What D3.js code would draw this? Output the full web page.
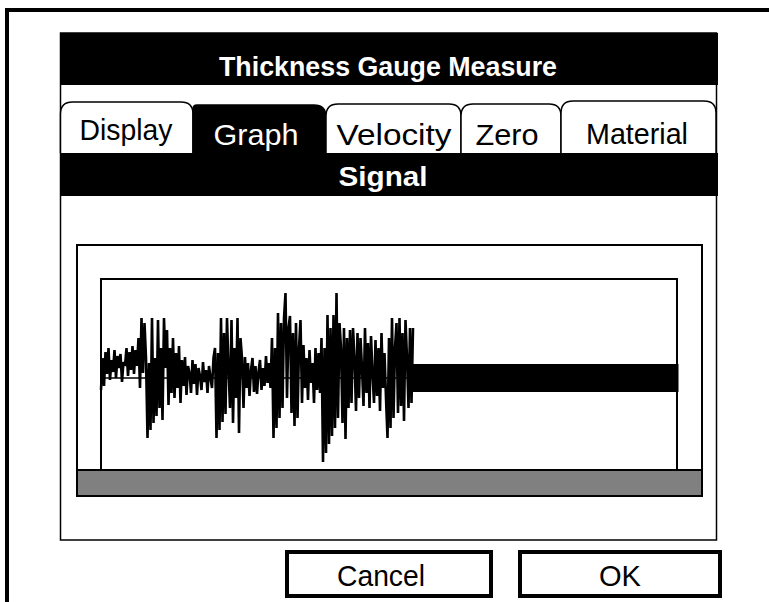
<!DOCTYPE html>
<html>
<head>
<meta charset="utf-8">
<script src="https://cdn.jsdelivr.net/npm/d3@7"></script>
<style>
    body { margin: 0; background: #fff; }
    text { font-family: "Liberation Sans", Arial, sans-serif; }
</style>
</head>
<body>
<script>
var width = 769,
    height = 602;

// screen texts
var title = "Thickness Gauge Measure";
var tabs = ["Display", "Graph", "Velocity", "Zero", "Material"];
var activeTab = "Graph";
var panelTitle = "Signal";
var buttons = ["Cancel", "OK"];

// signal samples (center = 0)
var signal = [
    -12, 20, -8, 26, 4, 30, -2, 18, 6, 28, 0, 22, 10, 24, -4, 16, 12, 30, 2, 26, 8, 32, 4, 28, 12,
    40, -10, 60, 5, 55, 20,
    -60, 15, -52, 60, -45, 20, -38, 58, -30, 30, -42, 60,
    10, 48, -27, 30, -15, 40, -20, 25, -10, 32, -25, 18, -8,
    21, -17, 12, 5, -15, 18, -6, 14, -17, 10, 2, -12, 16, -4, 8, -15, 12, 0, -10, 20,
    30, -60, 25, -52, 60, -44, 45, -36, 60, 10, -30, 58, -45, 30, -20, 60, -55, 40, 20, -30,
    21, -10, 15, -18, 8, 20, -14, 12, -16, 6, 18, -12, 10, -8, 22, -5, 15, -10,
    40, -60, 30, -50, 65, -40, 55, -30, 60, 85, -20, 50, 62, -35, 45, -48, 55, -40, 30, 58,
    -25, 33, -10, 20, -22, 28, -5, 15, -25, 30, -12, 25, -15,
    40, -84, 30, -75, 63, -66, 50, -58, 63, -50, 85, -40, 55, 30, -45, 50, -61, 40, -30, 48,
    -25, 50, 20, -33, 45, -20, 40, 10, -28, 50, -15, 35, -30, 42, 5, -25, 38, -18, 30, -33, 45, -10, 25, -20,
    -60, 40, -50, 60, -40, 30, 55, -35, 60, -28, 45, -43, 58, 20, -30, 50, -25, 50];

// the noise band after the echo: sample range and level
var tailStart = signal.length - 1, tailEnd = 385;
var tailLevel = [-14, 14];

var svg = d3.select("body").append("svg")
    .attr("width", width)
    .attr("height", height);

// outer frame (top and left edge)
svg.append("line").attr("x1", 5).attr("x2", 769).attr("y1", 10).attr("y2", 10)
    .attr("stroke", "#000").attr("stroke-width", 4);
svg.append("line").attr("x1", 7).attr("x2", 7).attr("y1", 8).attr("y2", 602)
    .attr("stroke", "#000").attr("stroke-width", 4);

// dialog box
svg.append("rect").attr("x", 60.5).attr("y", 33).attr("width", 656).attr("height", 507)
    .attr("fill", "#fff").attr("stroke", "#000").attr("stroke-width", 1.5);

// header
svg.append("rect").attr("x", 60).attr("y", 33).attr("width", 658).attr("height", 52).attr("fill", "#000");
svg.append("text").attr("x", 388).attr("y", 76)
    .attr("text-anchor", "middle").attr("fill", "#fff")
    .attr("textLength", 338).attr("lengthAdjust", "spacingAndGlyphs")
    .style("font-size", "27px").style("font-weight", "bold")
    .text(title);

// tabs
var tabX = [60.5, 193, 326, 461, 561, 716];
var tabTop = [102, 105, 104, 104, 101];
var tabTextX = [126, 256, 394, 507, 637];
var tabTextY = [140, 145, 145, 145, 144];
var tabW = [93, 85, 115, 63, 102];

function tabPath(x0, x1, y0, y1, rl, rr) {
    return "M" + x0 + "," + y1 +
        "L" + x0 + "," + (y0 + rl) +
        "Q" + x0 + "," + y0 + " " + (x0 + rl) + "," + y0 +
        "L" + (x1 - rr) + "," + y0 +
        "Q" + x1 + "," + y0 + " " + x1 + "," + (y0 + rr) +
        "L" + x1 + "," + y1;
}

var tabG = svg.selectAll("g.tab")
    .data(tabs)
    .enter().append("g")
    .attr("class", "tab");

tabG.append("path")
    .attr("d", function(d, i) {
        var active = d === activeTab;
        return tabPath(tabX[i], tabX[i + 1], tabTop[i], 153, active ? 4 : 12, 12) + (active ? "Z" : "");
    })
    .attr("fill", function(d) { return d === activeTab ? "#000" : "#fff"; })
    .attr("stroke", "#000")
    .attr("stroke-width", 1.5);

tabG.append("text")
    .attr("x", function(d, i) { return tabTextX[i]; })
    .attr("y", function(d, i) { return tabTextY[i]; })
    .attr("text-anchor", "middle")
    .attr("fill", function(d) { return d === activeTab ? "#fff" : "#000"; })
    .attr("textLength", function(d, i) { return tabW[i]; })
    .attr("lengthAdjust", "spacingAndGlyphs")
    .style("font-size", "29px")
    .text(function(d) { return d; });

// Signal bar
svg.append("rect").attr("x", 60).attr("y", 153).attr("width", 658).attr("height", 43).attr("fill", "#000");
svg.append("text").attr("x", 383).attr("y", 186)
    .attr("text-anchor", "middle").attr("fill", "#fff")
    .attr("textLength", 89).attr("lengthAdjust", "spacingAndGlyphs")
    .style("font-size", "27px").style("font-weight", "bold")
    .text(panelTitle);

// graph box
svg.append("rect").attr("x", 77).attr("y", 245).attr("width", 625).attr("height", 251)
    .attr("fill", "#fff").attr("stroke", "#000").attr("stroke-width", 2);
svg.append("rect").attr("x", 101).attr("y", 279).attr("width", 576).attr("height", 200)
    .attr("fill", "#fff").attr("stroke", "#000").attr("stroke-width", 2);
svg.append("rect").attr("x", 77).attr("y", 470).attr("width", 625).attr("height", 26)
    .attr("fill", "#808080").attr("stroke", "#000").attr("stroke-width", 2);

var x = d3.scaleLinear().domain([0, signal.length - 1]).range([101, 413]);
var y = d3.scaleLinear().domain([-100, 100]).range([478, 278]);

// center line through the trace
svg.append("line")
    .attr("x1", x(0)).attr("x2", x(tailStart))
    .attr("y1", y(0)).attr("y2", y(0))
    .attr("stroke", "#000").attr("stroke-width", 1.5);

var line = d3.line()
    .x(function(d, i) { return x(i); })
    .y(function(d) { return y(d); });

svg.append("path")
    .datum(signal)
    .attr("d", line)
    .attr("fill", "none")
    .attr("stroke", "#000")
    .attr("stroke-width", 2.6);

// dense noise band
svg.append("rect")
    .attr("x", x(tailStart))
    .attr("y", y(tailLevel[1]))
    .attr("width", x(tailEnd) - x(tailStart))
    .attr("height", y(tailLevel[0]) - y(tailLevel[1]))
    .attr("fill", "#000");

// buttons
var btnX = [287, 520], btnW = [204, 200];
var btnTextX = [381, 620], btnTextW = [88, 42];
var btnG = svg.selectAll("g.btn")
    .data(buttons)
    .enter().append("g")
    .attr("class", "btn");

btnG.append("rect")
    .attr("x", function(d, i) { return btnX[i]; })
    .attr("y", 552)
    .attr("width", function(d, i) { return btnW[i]; })
    .attr("height", 44)
    .attr("fill", "#fff")
    .attr("stroke", "#000")
    .attr("stroke-width", 4);

btnG.append("text")
    .attr("x", function(d, i) { return btnTextX[i]; })
    .attr("y", 586)
    .attr("text-anchor", "middle")
    .attr("textLength", function(d, i) { return btnTextW[i]; })
    .attr("lengthAdjust", "spacingAndGlyphs")
    .style("font-size", "29px")
    .text(function(d) { return d; });
</script>
</body>
</html>
